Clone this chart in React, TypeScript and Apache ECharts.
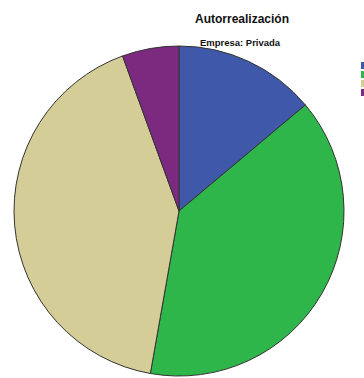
import React, { useEffect, useRef } from "react";
import * as echarts from "echarts";

const categories = ["Bajo", "Medio", "Alto", "Muy alto"];
const counts = [5, 14, 15, 2];
const colors = ["#3f58aa", "#2fb64b", "#d4cd98", "#7c2a7f"];

export default function App() {
  const ref = useRef<HTMLDivElement>(null);
  useEffect(() => {
    const chart = echarts.init(ref.current!, null, { renderer: "svg" });
    chart.setOption({
      animation: false,
      backgroundColor: "#ffffff",
      title: [
        {
          text: "Autorrealización",
          left: 237,
          top: 8,
          textAlign: "center",
          textStyle: { fontFamily: "Liberation Sans", fontSize: 12, fontWeight: "bold", color: "#111" },
        },
        {
          text: "Empresa: Privada",
          left: 235,
          top: 32,
          textAlign: "center",
          textStyle: { fontFamily: "Liberation Sans", fontSize: 9.5, fontWeight: "bold", color: "#111" },
        },
      ],
      legend: {
        orient: "vertical",
        left: 356,
        top: 57,
        itemWidth: 7,
        itemHeight: 7,
        itemGap: 2,
        icon: "rect",
        itemStyle: { borderWidth: 0 },
        textStyle: { fontFamily: "Liberation Sans", fontSize: 7, lineHeight: 7, color: "#111" },
        data: categories,
      },
      series: [
        {
          type: "pie",
          center: [179, 211],
          radius: [0, 165],
          startAngle: 90,
          clockwise: true,
          label: { show: false },
          labelLine: { show: false },
          emphasis: { disabled: true },
          itemStyle: { borderColor: "#333", borderWidth: 1 },
          data: categories.map((c, i) => ({ name: c, value: counts[i], itemStyle: { color: colors[i] } })),
        },
      ],
    });
    return () => chart.dispose();
  }, []);
  return <div ref={ref} style={{ width: 364, height: 378, position: "absolute", left: 0, top: 0 }} />;
}
